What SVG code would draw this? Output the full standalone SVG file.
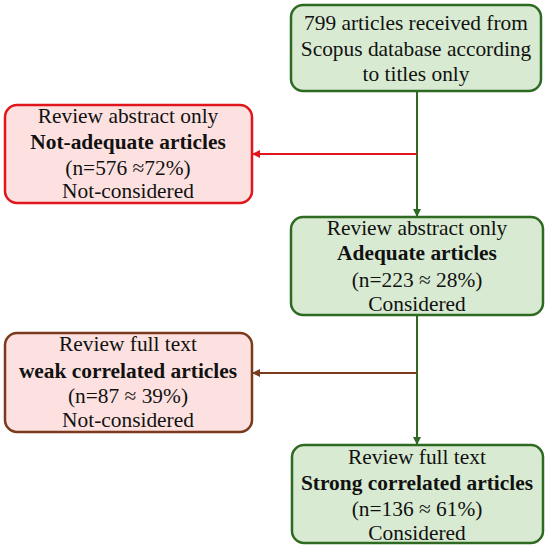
<svg xmlns="http://www.w3.org/2000/svg" width="550" height="549" viewBox="0 0 550 549">
<defs>
<style>
.t{font-family:"Liberation Serif","Times New Roman",serif;font-size:21.4px;fill:#111;text-anchor:middle}
.b{font-weight:bold}
.g{fill:#d8ebd2;stroke:#2f6a22;stroke-width:2.5}
.r{fill:#fde1e0;stroke:#e0161c;stroke-width:2.5}
.br{fill:#fde1e0;stroke:#7a3a1c;stroke-width:2.5}
</style>
<marker id="ag" markerWidth="8" markerHeight="8" refX="7" refY="4" orient="auto" markerUnits="userSpaceOnUse"><path d="M0,0 L8,4 L0,8 Z" fill="#2f6a22"/></marker>
<marker id="ar" markerWidth="8" markerHeight="8" refX="7" refY="4" orient="auto" markerUnits="userSpaceOnUse"><path d="M0,0 L8,4 L0,8 Z" fill="#e0161c"/></marker>
<marker id="ab" markerWidth="8" markerHeight="8" refX="7" refY="4" orient="auto" markerUnits="userSpaceOnUse"><path d="M0,0 L8,4 L0,8 Z" fill="#7a3a1c"/></marker>
</defs>
<g id="connectors" fill="none" stroke-width="2">
<path d="M417,91 V216" stroke="#2f6a22" marker-end="url(#ag)"/>
<path d="M417,154 H253" stroke="#e0161c" marker-end="url(#ar)"/>
<path d="M417,316 V444" stroke="#2f6a22" marker-end="url(#ag)"/>
<path d="M417,373 H253" stroke="#7a3a1c" marker-end="url(#ab)"/>
</g>
<g id="n1">
<rect class="g" x="291" y="5" width="250" height="86" rx="12"/>
<text class="t" x="416" y="30">799 articles received from</text>
<text class="t" x="416" y="56">Scopus database according</text>
<text class="t" x="416" y="81">to titles only</text>
</g>
<g id="n2">
<rect class="r" x="5" y="105" width="247" height="98" rx="12"/>
<text class="t" x="128" y="123">Review abstract only</text>
<text class="t b" x="128" y="149">Not-adequate articles</text>
<text class="t" x="128" y="175">(n=576 ≈72%)</text>
<text class="t" x="128" y="198">Not-considered</text>
</g>
<g id="n3">
<rect class="g" x="291" y="217" width="252" height="98" rx="12"/>
<text class="t" x="417" y="235">Review abstract only</text>
<text class="t b" x="417" y="260">Adequate articles</text>
<text class="t" x="417" y="287">(n=223 ≈ 28%)</text>
<text class="t" x="417" y="311">Considered</text>
</g>
<g id="n4">
<rect class="br" x="5" y="333" width="247" height="99" rx="12"/>
<text class="t" x="128" y="351">Review full text</text>
<text class="t b" x="128" y="378">weak correlated articles</text>
<text class="t" x="128" y="403">(n=87 ≈ 39%)</text>
<text class="t" x="128" y="427">Not-considered</text>
</g>
<g id="n5">
<rect class="g" x="292" y="445" width="251" height="98" rx="12"/>
<text class="t" x="417" y="464">Review full text</text>
<text class="t b" x="417" y="490">Strong correlated articles</text>
<text class="t" x="417" y="516">(n=136 ≈ 61%)</text>
<text class="t" x="417" y="540">Considered</text>
</g>
</svg>
